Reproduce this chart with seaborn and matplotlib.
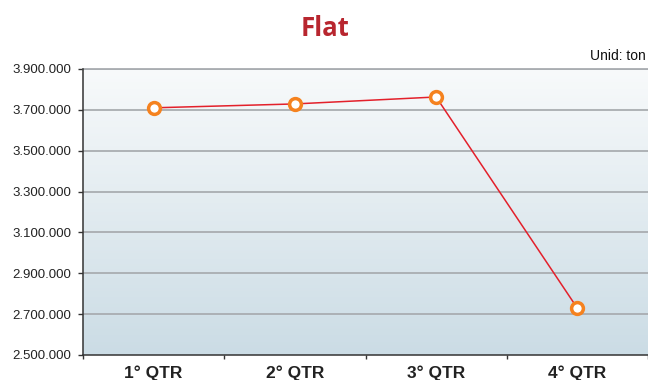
import numpy as np
import pandas as pd
import matplotlib
matplotlib.use("Agg")
import matplotlib.pyplot as plt
from matplotlib.colors import LinearSegmentedColormap
from matplotlib.ticker import FuncFormatter, FixedLocator
import seaborn as sns

# Quarterly values
quarters = ["1° QTR", "2° QTR", "3° QTR", "4° QTR"]
values = [3710000, 3729000, 3763000, 2729000]
y_ticks = [2500000, 2700000, 2900000, 3100000, 3300000, 3500000, 3700000, 3900000]

df = pd.DataFrame({"quarter": quarters, "value": values})

sns.set_theme(style="white")
plt.rcParams["font.family"] = ["Liberation Sans", "DejaVu Sans"]

fig = plt.figure(figsize=(6.48, 3.8), dpi=100)
ax = fig.add_axes([83 / 648, 1 - 355 / 380, 565 / 648, (355 - 69) / 380])

# Vertical gradient background
grad = LinearSegmentedColormap.from_list("bg", ["#f8fafb", "#cbdce5"])
ax.imshow(np.linspace(0, 1, 256).reshape(-1, 1), cmap=grad, aspect="auto",
          extent=(0, 1, 0, 1), transform=ax.transAxes, zorder=0)

sns.lineplot(data=df, x="quarter", y="value", ax=ax, color="#e3202b",
             linewidth=1.1, marker="o", markersize=8.5, markerfacecolor="white",
             markeredgecolor="#f5821f", markeredgewidth=2.5, zorder=5)

ax.set_xlim(-0.5, 3.5)
ax.set_ylim(2500000, 3900000)

# Horizontal grid
for v in y_ticks[1:]:
    ax.axhline(v, color="#a9adb1", linewidth=1.3, zorder=1)

ax.yaxis.set_major_locator(FixedLocator(y_ticks))
ax.yaxis.set_major_formatter(FuncFormatter(lambda v, p: f"{int(v):,}".replace(",", ".")))
ax.tick_params(axis="y", which="major", direction="out", length=3.6, width=1,
               color="#333333", labelsize=9.5, labelcolor="#222222", pad=5, left=True)

# Category boundaries as ticks, labels centred between them
ax.xaxis.set_major_locator(FixedLocator([-0.5, 0.5, 1.5, 2.5, 3.5]))
ax.xaxis.set_minor_locator(FixedLocator([0, 1, 2, 3]))
ax.set_xticklabels([], minor=False)
ax.set_xticklabels(quarters, minor=True, fontweight="bold", fontsize=12.5)
ax.tick_params(axis="x", which="major", direction="out", length=3, width=1,
               color="#333333", bottom=True)
ax.tick_params(axis="x", which="minor", length=0, pad=7.5, labelcolor="#222222")

ax.set_xlabel("")
ax.set_ylabel("")
for side in ["top", "right"]:
    ax.spines[side].set_visible(False)
for side in ["left", "bottom"]:
    ax.spines[side].set_color("#333333")
    ax.spines[side].set_linewidth(1.1)
ax.axhline(3900000, color="#a9adb1", linewidth=1.3, zorder=1, clip_on=False)

fig.text(325 / 648, 1 - 35.7 / 380, "Flat", ha="center", va="baseline",
         fontsize=18.5, fontweight="bold", color="#b8262f",
         family=["Open Sans", "DejaVu Sans"])
fig.text(590 / 648, 1 - 60.5 / 380, "Unid: ton", ha="left", va="baseline",
         fontsize=10, color="#111111")

fig.savefig("out.png", dpi=100)
